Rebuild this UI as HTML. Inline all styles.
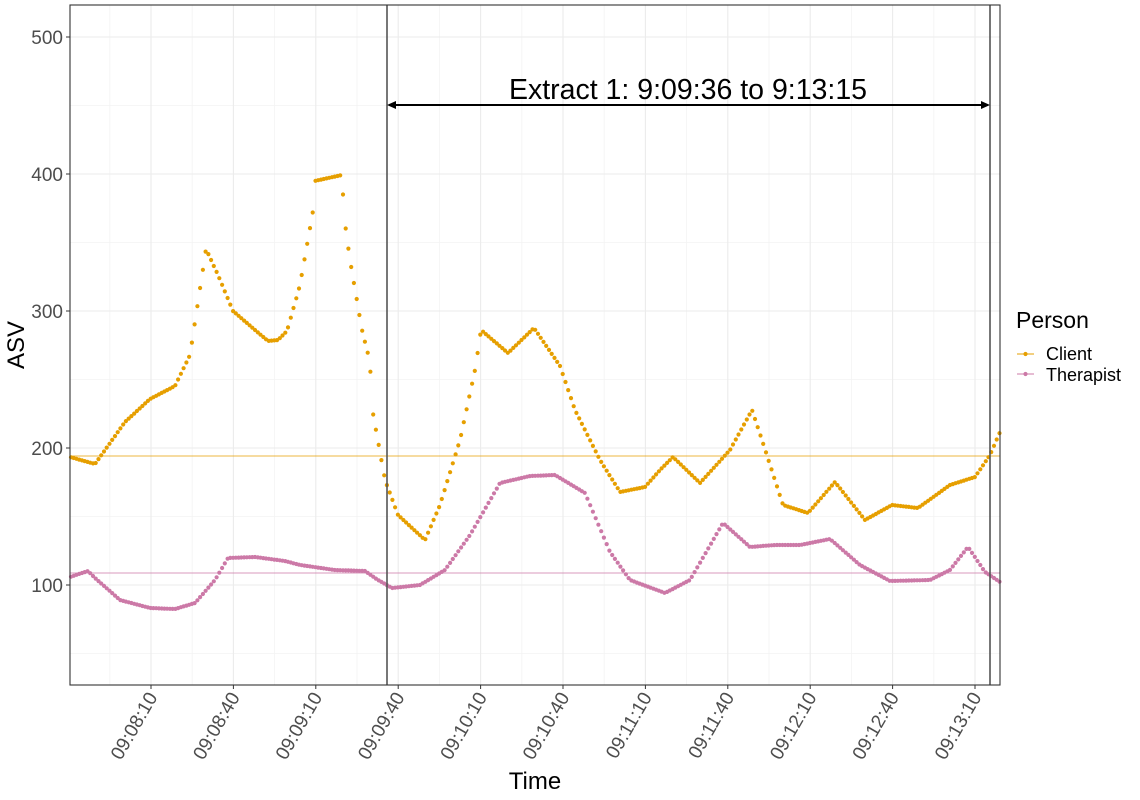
<!DOCTYPE html>
<html><head><meta charset="utf-8"><style>
body{margin:0;background:#fff;}
svg{display:block;font-family:"Liberation Sans",sans-serif;}
</style></head><body>
<svg id="s" width="1140" height="800" xmlns="http://www.w3.org/2000/svg"></svg>
<script>
const s=document.getElementById('s');let h='';
const L=70,R=1000,T=5,B=685;
const yMaj=[37,174,311,448,585];
for(const y of [105.5,242.5,379.5,516.5,653.5])h+=`<line x1="${L}" x2="${R}" y1="${y}" y2="${y}" stroke="#f3f3f3" stroke-width="0.8"/>`;
const px=82.4;const xt=[];for(let i=0;i<11;i++)xt.push(151+i*px);
for(let i=-1;i<11;i++){const x=151+i*px+px/2;if(x>L&&x<R)h+=`<line y1="${T}" y2="${B}" x1="${x}" x2="${x}" stroke="#f3f3f3" stroke-width="0.8"/>`;}
for(const y of yMaj)h+=`<line x1="${L}" x2="${R}" y1="${y}" y2="${y}" stroke="#ebebeb" stroke-width="1.1"/>`;
for(const x of xt)h+=`<line y1="${T}" y2="${B}" x1="${x}" x2="${x}" stroke="#ebebeb" stroke-width="1.1"/>`;
h+=`<line x1="${L}" x2="${R}" y1="456" y2="456" stroke="#E69F00" stroke-width="0.7"/>`;
h+=`<line x1="${L}" x2="${R}" y1="573" y2="573" stroke="#CC79A7" stroke-width="0.7"/>`;
function interp(k,x){for(let i=0;i<k.length-1;i++){if(x>=k[i][0]&&x<=k[i+1][0]){const t=(x-k[i][0])/(k[i+1][0]-k[i][0]);return k[i][1]+t*(k[i+1][1]-k[i][1]);}}return k[k.length-1][1];}
const C=[[70,457],[95,464],[125,422],[150,399],[175,386],[190,355],[206,249],[218,275],[233,311],[255,330],[268,341],[278,340],[287,331],[300,285],[313,211],[314.5,181],[342,175],[344,216],[350,260],[362,330],[370,362],[372,408],[385,480],[398,515],[425,540],[440,505],[460,440],[475,370],[481,330],[508,353],[534,328],[560,366],[575,410],[600,460],[620,492],[645,487],[660,470],[673,457],[700,483],[730,450],[752,410],[762,440],[783,505],[808,513],[835,482],[865,520],[892,505],[918,508],[950,485],[975,477],[990,455],[1000,432]];
const P=[[70,577],[88,571],[95,578],[120,600],[150,608],[175,609],[195,603],[215,580],[228,558],[255,557],[270,559],[285,561],[300,565],[335,570],[365,571],[378,580],[392,588],[420,585],[445,570],[470,535],[500,483],[530,476],[555,475],[585,493],[610,552],[630,580],[665,593],[690,580],[723,523],[750,547],[775,545],[800,545],[830,539],[860,565],[890,581],[930,580],[950,570],[968,547],[985,572],[1000,582]];
const dx=2.747;
for(const [k,c] of [[C,'#E69F00'],[P,'#CC79A7']]){for(let x=71;x<=1000;x+=dx)h+=`<circle cx="${x.toFixed(1)}" cy="${interp(k,x).toFixed(1)}" r="2.1" fill="${c}"/>`;}
h+=`<line x1="387" x2="387" y1="${T}" y2="${B}" stroke="#555" stroke-width="1.6"/>`;
h+=`<line x1="990" x2="990" y1="${T}" y2="${B}" stroke="#555" stroke-width="1.6"/>`;
h+=`<line x1="389" x2="988" y1="105" y2="105" stroke="#000" stroke-width="2"/>`;
h+=`<path d="M387,105 L396,101 L396,109 Z M990,105 L981,101 L981,109 Z" fill="#000"/>`;
h+=`<text x="688" y="99" font-size="28.5" text-anchor="middle" fill="#000">Extract 1: 9:09:36 to 9:13:15</text>`;
h+=`<rect x="${L}" y="${T}" width="${R-L}" height="${B-T}" fill="none" stroke="#333" stroke-width="1.1"/>`;
const yl=['500','400','300','200','100'];const yv=[37,174,311,448,585];
yv.forEach((y,i)=>{h+=`<line x1="66" x2="70" y1="${y}" y2="${y}" stroke="#333"/>`;h+=`<text x="63" y="${y+7}" font-size="19" text-anchor="end" fill="#4d4d4d">${yl[i]}</text>`;});
const xl=['09:08:10','09:08:40','09:09:10','09:09:40','09:10:10','09:10:40','09:11:10','09:11:40','09:12:10','09:12:40','09:13:10'];
xt.forEach((x,i)=>{h+=`<line x1="${x}" x2="${x}" y1="685" y2="689" stroke="#333"/>`;h+=`<text transform="translate(${x+7},${697}) rotate(-60)" font-size="19" text-anchor="end" fill="#4d4d4d">${xl[i]}</text>`;});
h+=`<text x="535" y="789" font-size="24" text-anchor="middle">Time</text>`;
h+=`<text transform="translate(24,345) rotate(-90)" font-size="24" text-anchor="middle">ASV</text>`;
h+=`<text x="1016" y="328" font-size="23">Person</text>`;
h+=`<line x1="1017" x2="1034" y1="354" y2="354" stroke="#E69F00" stroke-width="1"/><circle cx="1025.5" cy="354" r="2.1" fill="#E69F00"/>`;
h+=`<line x1="1017" x2="1034" y1="374" y2="374" stroke="#CC79A7" stroke-width="1"/><circle cx="1025.5" cy="374" r="2.1" fill="#CC79A7"/>`;
h+=`<text x="1046" y="360" font-size="18">Client</text><text x="1046" y="381" font-size="18">Therapist</text>`;
s.innerHTML=h;
</script>
</body></html>
